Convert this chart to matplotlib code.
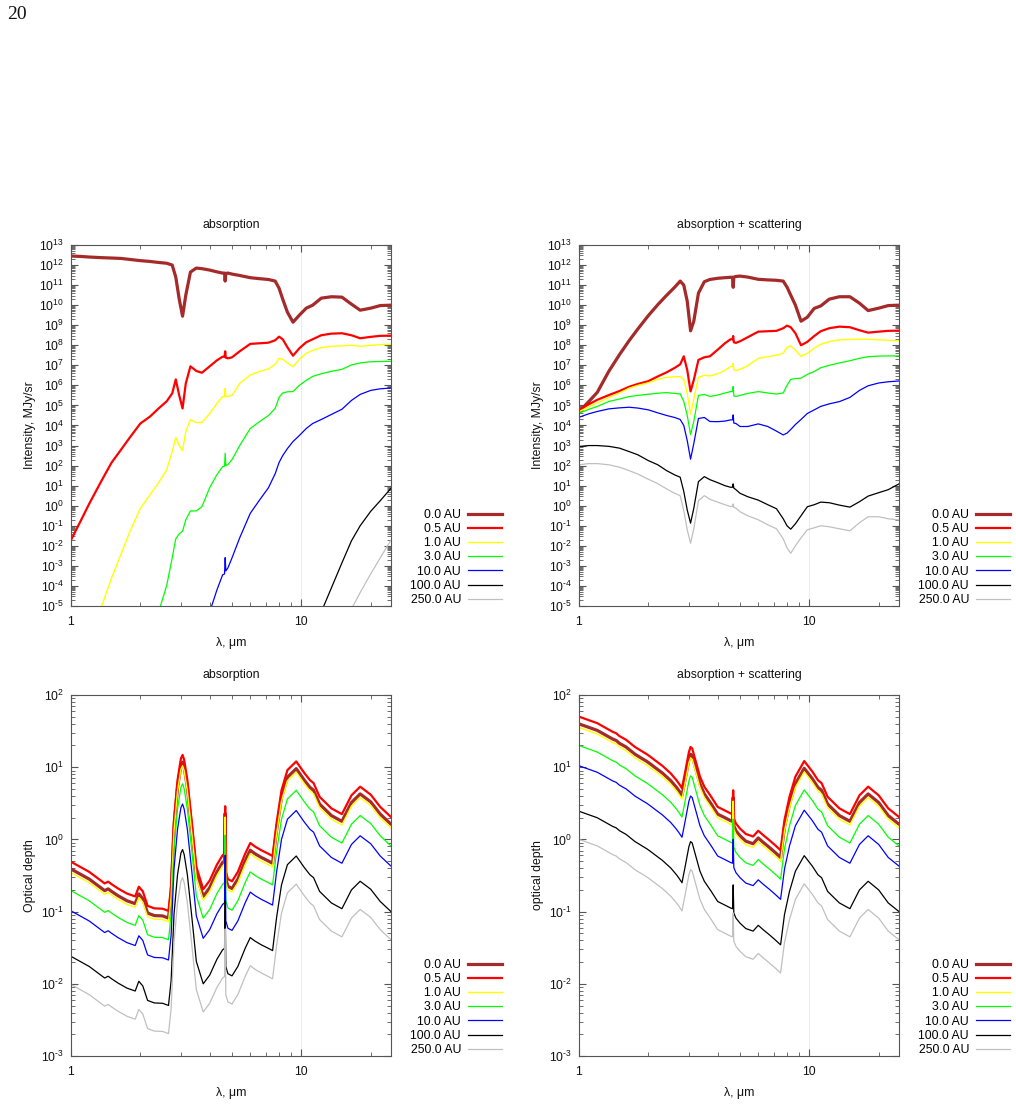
import numpy as np
import matplotlib
matplotlib.use("Agg")
import matplotlib.pyplot as plt
from matplotlib.ticker import LogLocator, FuncFormatter, NullFormatter
from matplotlib.lines import Line2D

nan = float("nan")

# ---------------- data (log10 values) ----------------
radii_labels = ["0.0 AU", "0.5 AU", "1.0 AU", "3.0 AU", "10.0 AU", "100.0 AU", "250.0 AU"]

# wavelength grid, micron (intensity panels)
wl_I = [1.0, 1.1, 1.2, 1.35, 1.5, 1.65, 1.8, 2.0, 2.2, 2.4,
        2.6, 2.75, 2.85, 2.95, 3.05, 3.15, 3.3, 3.5, 3.7, 4.0,
        4.3, 4.55, 4.64, 4.67, 4.70, 4.8, 5.0, 5.4, 6.0, 6.6,
        7.2, 7.7, 8.0, 8.3, 8.7, 9.2, 9.8, 10.5, 11.2, 12.2,
        13.5, 15.0, 16.5, 18.0, 20.0, 22.0, 24.5]

# log10 intensity, MJy/sr -- absorption only
abs_logI_00 = [12.45, 12.43, 12.40, 12.37, 12.35, 12.33, 12.28, 12.22, 12.18, 12.13,
               12.09, 12.00, 11.40, 10.30, 9.45, 10.50, 11.65, 11.85, 11.82, 11.75,
               11.66, 11.60, 11.60, 11.20, 11.58, 11.60, 11.55, 11.48, 11.37, 11.32,
               11.28, 11.20, 10.85, 10.30, 9.65, 9.15, 9.50, 9.85, 10.00, 10.35,
               10.42, 10.40, 10.05, 9.75, 9.85, 9.98, 10.00]
abs_logI_05 = [-1.71, -0.77, 0.10, 1.20, 2.15, 2.80, 3.40, 4.10, 4.44, 4.85,
               5.20, 5.60, 6.30, 5.50, 4.85, 6.10, 6.95, 6.72, 6.63, 6.95,
               7.25, 7.43, 7.43, 7.70, 7.38, 7.35, 7.40, 7.70, 8.07, 8.10,
               8.13, 8.25, 8.43, 8.30, 7.90, 7.48, 7.85, 8.15, 8.30, 8.50,
               8.58, 8.60, 8.50, 8.35, 8.42, 8.47, 8.48]
abs_logI_10 = [nan, nan, nan, -5.10, -3.60, -2.40, -1.30, -0.13, 0.54, 1.15,
               1.78, 2.70, 3.40, 3.00, 2.75, 3.70, 4.30, 4.15, 4.15, 4.60,
               5.10, 5.44, 5.44, 5.85, 5.45, 5.45, 5.50, 6.10, 6.52, 6.70,
               6.82, 7.05, 7.35, 7.30, 7.12, 6.93, 7.30, 7.60, 7.75, 7.88,
               7.95, 7.97, 8.00, 7.95, 8.00, 8.03, 8.05]
abs_logI_30 = [nan, nan, nan, nan, nan, nan, nan, nan, nan, -5.30,
               -4.00, -2.60, -1.65, -1.40, -1.27, -0.70, -0.26, -0.26, -0.05, 0.90,
               1.55, 1.95, 1.97, 2.62, 2.00, 2.05, 2.30, 3.00, 3.85, 4.20,
               4.50, 4.85, 5.40, 5.62, 5.68, 5.69, 6.00, 6.25, 6.45, 6.58,
               6.70, 6.80, 7.02, 7.12, 7.18, 7.19, 7.20]
abs_logI_100 = [nan, nan, nan, nan, nan, nan, nan, nan, nan, nan,
                nan, nan, nan, nan, nan, nan, nan, nan, nan, -5.30,
                -4.20, -3.45, -3.40, -2.59, -3.25, -3.10, -2.60, -1.60, -0.38, 0.30,
                0.90, 1.60, 2.15, 2.50, 2.85, 3.20, 3.50, 3.85, 4.10, 4.30,
                4.55, 4.81, 5.25, 5.55, 5.75, 5.83, 5.87]
abs_logI_1000 = [nan, nan, nan, nan, nan, nan, nan, nan, nan, nan,
                 nan, nan, nan, nan, nan, nan, nan, nan, nan, nan,
                 nan, nan, nan, nan, nan, nan, nan, nan, nan, nan,
                 nan, nan, nan, nan, nan, nan, nan, nan, nan, -5.30,
                 -4.10, -2.85, -1.75, -1.00, -0.28, 0.25, 0.87]
abs_logI_2500 = [nan, nan, nan, nan, nan, nan, nan, nan, nan, nan,
                 nan, nan, nan, nan, nan, nan, nan, nan, nan, nan,
                 nan, nan, nan, nan, nan, nan, nan, nan, nan, nan,
                 nan, nan, nan, nan, nan, nan, nan, nan, nan, nan,
                 nan, nan, -5.15, -4.33, -3.40, -2.60, -1.71]

# log10 intensity, MJy/sr -- absorption + scattering
sca_logI_00 = [4.69, 5.18, 5.65, 6.72, 7.54, 8.23, 8.81, 9.48, 10.03, 10.49,
               10.89, 11.20, 11.00, 10.20, 8.72, 9.20, 10.60, 11.17, 11.28, 11.34,
               11.37, 11.39, 11.39, 10.89, 11.40, 11.43, 11.45, 11.40, 11.29, 11.26,
               11.24, 11.20, 10.90, 10.50, 10.00, 9.20, 9.40, 9.84, 9.96, 10.30,
               10.42, 10.42, 10.10, 9.73, 9.85, 9.98, 10.00]
sca_logI_05 = [4.78, 5.05, 5.28, 5.52, 5.72, 5.93, 6.07, 6.21, 6.45, 6.65,
               6.87, 7.05, 7.45, 6.77, 5.70, 6.27, 7.27, 7.40, 7.45, 7.78,
               8.10, 8.30, 8.30, 8.46, 8.15, 8.12, 8.20, 8.40, 8.68, 8.70,
               8.72, 8.85, 8.98, 8.90, 8.60, 8.00, 8.17, 8.46, 8.70, 8.85,
               8.93, 8.90, 8.75, 8.63, 8.68, 8.72, 8.73]
sca_logI_10 = [4.69, 4.92, 5.12, 5.40, 5.62, 5.86, 6.00, 6.13, 6.30, 6.40,
               6.43, 6.44, 6.30, 5.60, 4.55, 5.30, 6.40, 6.50, 6.47, 6.58,
               6.75, 6.94, 6.94, 7.10, 6.78, 6.74, 6.80, 6.98, 7.35, 7.43,
               7.50, 7.60, 7.90, 7.97, 7.75, 7.45, 7.60, 7.85, 8.05, 8.18,
               8.27, 8.29, 8.30, 8.30, 8.27, 8.25, 8.23]
sca_logI_30 = [4.61, 4.80, 4.95, 5.20, 5.32, 5.44, 5.50, 5.56, 5.61, 5.64,
               5.60, 5.57, 5.20, 4.50, 3.55, 4.20, 5.50, 5.55, 5.45, 5.52,
               5.62, 5.69, 5.69, 5.94, 5.48, 5.45, 5.50, 5.60, 5.69, 5.62,
               5.57, 5.62, 6.00, 6.30, 6.34, 6.36, 6.55, 6.69, 6.88, 7.00,
               7.12, 7.23, 7.35, 7.43, 7.46, 7.47, 7.47]
sca_logI_100 = [4.41, 4.58, 4.70, 4.83, 4.88, 4.91, 4.87, 4.78, 4.63, 4.50,
                4.40, 4.30, 4.00, 3.25, 2.32, 3.10, 4.35, 4.40, 4.20, 4.19,
                4.22, 4.28, 4.28, 4.53, 4.12, 4.10, 3.95, 3.95, 4.08, 3.95,
                3.72, 3.53, 3.62, 3.80, 4.05, 4.30, 4.60, 4.78, 4.95, 5.08,
                5.19, 5.40, 5.75, 5.98, 6.12, 6.18, 6.22]
sca_logI_1000 = [2.95, 3.00, 3.00, 2.96, 2.87, 2.70, 2.54, 2.25, 2.04, 1.75,
                 1.54, 1.42, 0.71, -0.21, -0.87, -0.13, 1.20, 1.45, 1.30, 1.15,
                 1.00, 0.92, 0.92, 1.09, 0.88, 0.80, 0.62, 0.45, 0.28, 0.05,
                 -0.15, -0.65, -1.00, -1.17, -0.90, -0.50, -0.05, 0.05, 0.18, 0.15,
                 0.03, -0.07, 0.20, 0.48, 0.65, 0.80, 1.09]
sca_logI_2500 = [2.04, 2.10, 2.10, 2.04, 1.92, 1.75, 1.58, 1.32, 1.10, 0.84,
                 0.62, 0.50, -0.25, -1.20, -1.87, -1.15, 0.25, 0.50, 0.32, 0.18,
                 0.05, -0.04, -0.04, 0.09, -0.08, -0.12, -0.30, -0.50, -0.70, -0.95,
                 -1.15, -1.65, -2.10, -2.37, -2.00, -1.60, -1.20, -1.10, -1.00, -1.05,
                 -1.15, -1.25, -0.85, -0.55, -0.55, -0.65, -0.71]

# wavelength grid, micron (optical depth panels)
wl_tau = [1.0, 1.2, 1.4, 1.45, 1.5, 1.6, 1.75, 1.9, 1.97, 2.05,
          2.15, 2.3, 2.5, 2.65, 2.72, 2.8, 2.9, 3.0, 3.05, 3.1,
          3.2, 3.35, 3.5, 3.75, 4.0, 4.3, 4.55, 4.64, 4.67, 4.70,
          4.8, 5.0, 5.3, 5.7, 6.0, 6.3, 6.7, 7.1, 7.5, 7.8,
          8.2, 8.7, 9.5, 10.3, 10.9, 11.3, 12.0, 13.5, 15.0, 16.5,
          18.0, 20.0, 22.0, 24.5]

# log10 optical depth -- absorption
abs_logtau_00 = [-0.41, -0.55, -0.71, -0.685, -0.72, -0.78, -0.85, -0.89, -0.755, -0.82,
                 -1.02, -1.055, -1.06, -1.09, -0.75, 0.17, 0.72, 1.02, 1.07, 1.00,
                 0.72, 0.12, -0.48, -0.79, -0.67, -0.45, -0.32, -0.30, 0.36, -0.55,
                 -0.65, -0.68, -0.55, -0.30, -0.15, -0.20, -0.25, -0.29, -0.33, 0.12,
                 0.58, 0.86, 0.98, 0.82, 0.72, 0.68, 0.49, 0.33, 0.25, 0.51,
                 0.63, 0.52, 0.35, 0.21]
abs_logtau_05 = [-0.31, -0.45, -0.61, -0.585, -0.62, -0.68, -0.75, -0.79, -0.655, -0.72,
                 -0.92, -0.955, -0.96, -0.99, -0.65, 0.27, 0.82, 1.12, 1.17, 1.10,
                 0.82, 0.22, -0.38, -0.69, -0.57, -0.35, -0.22, -0.20, 0.46, -0.45,
                 -0.55, -0.58, -0.45, -0.20, -0.05, -0.10, -0.15, -0.19, -0.23, 0.22,
                 0.68, 0.96, 1.08, 0.92, 0.82, 0.78, 0.59, 0.43, 0.35, 0.61,
                 0.73, 0.62, 0.45, 0.31]
abs_logtau_10 = [-0.46, -0.60, -0.76, -0.735, -0.77, -0.83, -0.90, -0.94, -0.805, -0.87,
                 -1.07, -1.105, -1.11, -1.14, -0.80, 0.12, 0.67, 0.97, 1.02, 0.95,
                 0.67, 0.07, -0.53, -0.84, -0.72, -0.50, -0.37, -0.35, 0.31, -0.60,
                 -0.70, -0.73, -0.60, -0.35, -0.20, -0.25, -0.30, -0.34, -0.38, 0.07,
                 0.53, 0.81, 0.93, 0.77, 0.67, 0.63, 0.44, 0.28, 0.20, 0.46,
                 0.58, 0.47, 0.30, 0.16]
abs_logtau_30 = [-0.71, -0.85, -1.01, -0.985, -1.02, -1.08, -1.15, -1.19, -1.055, -1.12,
                 -1.32, -1.355, -1.36, -1.39, -1.05, -0.13, 0.42, 0.72, 0.77, 0.70,
                 0.42, -0.18, -0.78, -1.09, -0.97, -0.75, -0.62, -0.60, 0.06, -0.85,
                 -0.95, -0.98, -0.85, -0.60, -0.45, -0.50, -0.55, -0.59, -0.63, -0.18,
                 0.28, 0.56, 0.68, 0.52, 0.42, 0.38, 0.19, 0.03, -0.05, 0.21,
                 0.33, 0.22, 0.05, -0.09]
abs_logtau_100 = [-0.99, -1.13, -1.29, -1.265, -1.30, -1.36, -1.43, -1.47, -1.335, -1.40,
                  -1.60, -1.635, -1.64, -1.67, -1.33, -0.41, 0.14, 0.44, 0.49, 0.42,
                  0.14, -0.46, -1.06, -1.37, -1.25, -1.03, -0.90, -0.88, -0.22, -1.13,
                  -1.23, -1.26, -1.13, -0.88, -0.73, -0.78, -0.83, -0.87, -0.91, -0.46,
                  0.00, 0.28, 0.40, 0.24, 0.14, 0.10, -0.09, -0.25, -0.33, -0.07,
                  0.05, -0.06, -0.23, -0.37]
abs_logtau_1000 = [-1.62, -1.76, -1.92, -1.895, -1.93, -1.99, -2.06, -2.10, -1.965, -2.03,
                   -2.23, -2.265, -2.27, -2.30, -1.96, -1.04, -0.49, -0.19, -0.14, -0.21,
                   -0.49, -1.09, -1.69, -2.00, -1.88, -1.66, -1.53, -1.51, -0.85, -1.76,
                   -1.86, -1.89, -1.76, -1.51, -1.36, -1.41, -1.46, -1.50, -1.54, -1.09,
                   -0.63, -0.35, -0.23, -0.39, -0.49, -0.53, -0.72, -0.88, -0.96, -0.70,
                   -0.58, -0.69, -0.86, -1.00]
abs_logtau_2500 = [-2.01, -2.15, -2.31, -2.285, -2.32, -2.38, -2.45, -2.49, -2.355, -2.42,
                   -2.62, -2.655, -2.66, -2.69, -2.35, -1.43, -0.88, -0.58, -0.53, -0.60,
                   -0.88, -1.48, -2.08, -2.39, -2.27, -2.05, -1.92, -1.90, -1.24, -2.15,
                   -2.25, -2.28, -2.15, -1.90, -1.75, -1.80, -1.85, -1.89, -1.93, -1.48,
                   -1.02, -0.74, -0.62, -0.78, -0.88, -0.92, -1.11, -1.27, -1.35, -1.09,
                   -0.97, -1.08, -1.25, -1.39]

# log10 optical depth -- absorption + scattering
sca_logtau_00 = [1.60, 1.51, 1.39, 1.37, 1.33, 1.28, 1.18, 1.11, 1.08, 1.04,
                 0.99, 0.92, 0.815, 0.72, 0.67, 0.61, 0.86, 1.11, 1.18, 1.16,
                 1.00, 0.77, 0.63, 0.49, 0.35, 0.30, 0.26, 0.25, 0.58, 0.19,
                 0.12, 0.05, -0.025, -0.06, 0.02, -0.04, -0.11, -0.18, -0.25, 0.17,
                 0.49, 0.77, 0.985, 0.84, 0.72, 0.68, 0.49, 0.33, 0.25, 0.51,
                 0.63, 0.51, 0.33, 0.21]
sca_logtau_05 = [1.70, 1.61, 1.49, 1.47, 1.43, 1.38, 1.28, 1.21, 1.18, 1.14,
                 1.09, 1.02, 0.915, 0.82, 0.77, 0.71, 0.96, 1.21, 1.28, 1.26,
                 1.10, 0.87, 0.73, 0.59, 0.45, 0.40, 0.36, 0.35, 0.68, 0.29,
                 0.22, 0.15, 0.075, 0.04, 0.12, 0.06, -0.01, -0.08, -0.15, 0.27,
                 0.59, 0.87, 1.085, 0.94, 0.82, 0.78, 0.59, 0.43, 0.35, 0.61,
                 0.73, 0.61, 0.43, 0.31]
sca_logtau_10 = [1.55, 1.46, 1.34, 1.32, 1.28, 1.23, 1.13, 1.06, 1.03, 0.99,
                 0.94, 0.87, 0.765, 0.67, 0.62, 0.56, 0.81, 1.06, 1.13, 1.11,
                 0.95, 0.72, 0.58, 0.44, 0.30, 0.25, 0.21, 0.20, 0.53, 0.14,
                 0.07, 0.00, -0.075, -0.11, -0.03, -0.09, -0.16, -0.23, -0.30, 0.12,
                 0.44, 0.72, 0.935, 0.79, 0.67, 0.63, 0.44, 0.28, 0.20, 0.46,
                 0.58, 0.46, 0.28, 0.16]
sca_logtau_30 = [1.30, 1.21, 1.09, 1.07, 1.03, 0.98, 0.88, 0.81, 0.78, 0.74,
                 0.69, 0.62, 0.515, 0.42, 0.37, 0.31, 0.56, 0.81, 0.88, 0.86,
                 0.70, 0.47, 0.33, 0.19, 0.05, 0.00, -0.04, -0.05, 0.28, -0.11,
                 -0.18, -0.25, -0.325, -0.36, -0.28, -0.34, -0.41, -0.48, -0.55, -0.13,
                 0.19, 0.47, 0.685, 0.54, 0.42, 0.38, 0.19, 0.03, -0.05, 0.21,
                 0.33, 0.21, 0.03, -0.09]
sca_logtau_100 = [1.02, 0.93, 0.81, 0.79, 0.75, 0.70, 0.60, 0.53, 0.50, 0.46,
                  0.41, 0.34, 0.235, 0.14, 0.09, 0.03, 0.28, 0.53, 0.60, 0.58,
                  0.42, 0.19, 0.05, -0.09, -0.23, -0.28, -0.32, -0.33, 0.00, -0.39,
                  -0.46, -0.53, -0.605, -0.64, -0.56, -0.62, -0.69, -0.76, -0.83, -0.41,
                  -0.09, 0.19, 0.405, 0.26, 0.14, 0.10, -0.09, -0.25, -0.33, -0.07,
                  0.05, -0.07, -0.25, -0.37]
sca_logtau_1000 = [0.39, 0.30, 0.18, 0.16, 0.12, 0.07, -0.03, -0.10, -0.13, -0.17,
                   -0.22, -0.29, -0.395, -0.49, -0.54, -0.60, -0.35, -0.10, -0.03, -0.05,
                   -0.21, -0.44, -0.58, -0.72, -0.86, -0.91, -0.95, -0.96, -0.63, -1.02,
                   -1.09, -1.16, -1.235, -1.27, -1.19, -1.25, -1.32, -1.39, -1.46, -1.04,
                   -0.72, -0.44, -0.225, -0.37, -0.49, -0.53, -0.72, -0.88, -0.96, -0.70,
                   -0.58, -0.70, -0.88, -1.00]
sca_logtau_2500 = [0.00, -0.09, -0.21, -0.23, -0.27, -0.32, -0.42, -0.49, -0.52, -0.56,
                   -0.61, -0.68, -0.785, -0.88, -0.93, -0.99, -0.74, -0.49, -0.42, -0.44,
                   -0.60, -0.83, -0.97, -1.11, -1.25, -1.30, -1.34, -1.35, -1.02, -1.41,
                   -1.48, -1.55, -1.625, -1.66, -1.58, -1.64, -1.71, -1.78, -1.85, -1.43,
                   -1.11, -0.83, -0.615, -0.76, -0.88, -0.92, -1.11, -1.27, -1.35, -1.09,
                   -0.97, -1.09, -1.27, -1.39]

# ---------------- style ----------------
plt.rcParams["font.family"] = ["Liberation Sans", "DejaVu Sans"]
plt.rcParams["mathtext.fontset"] = "custom"
plt.rcParams["mathtext.rm"] = "Liberation Sans"
plt.rcParams["mathtext.it"] = "Liberation Sans:italic"
plt.rcParams["mathtext.bf"] = "Liberation Sans:bold"
plt.rcParams["mathtext.default"] = "regular"

FS = 8.8
line_colors = ["#a52a2a", "#ff0000", "#ffff00", "#00ff00", "#0000ff", "#000000", "#c0c0c0"]
line_widths = [2.3, 1.6, 1.0, 0.9, 0.9, 0.9, 0.9]
FRAME = "#555555"

W, H = 1016, 1106
fig = plt.figure(figsize=(W / 100, H / 100), dpi=100)


def rect(x0, y0, x1, y1):
    return [x0 / W, 1 - y1 / H, (x1 - x0) / W, (y1 - y0) / H]


def pow_label(v, pos):
    e = int(round(np.log10(v)))
    es = str(e).replace("-", "\u2010")
    return r"$\mathdefault{10^{%s}}$" % es


panels = [
    dict(r=rect(71, 245, 391, 606), wl=wl_I,
         data=[abs_logI_00, abs_logI_05, abs_logI_10, abs_logI_30, abs_logI_100, abs_logI_1000, abs_logI_2500],
         ylim=(1e-5, 1e13), ylabel="Intensity, MJy/sr", title="absorption", leg=(502, 606)),
    dict(r=rect(579, 245, 899, 606), wl=wl_I,
         data=[sca_logI_00, sca_logI_05, sca_logI_10, sca_logI_30, sca_logI_100, sca_logI_1000, sca_logI_2500],
         ylim=(1e-5, 1e13), ylabel="Intensity, MJy/sr", title="absorption + scattering", leg=(1010, 606)),
    dict(r=rect(71, 695, 391, 1056), wl=wl_tau,
         data=[abs_logtau_00, abs_logtau_05, abs_logtau_10, abs_logtau_30, abs_logtau_100, abs_logtau_1000, abs_logtau_2500],
         ylim=(1e-3, 1e2), ylabel="Optical depth", title="absorption", leg=(502, 1056)),
    dict(r=rect(579, 695, 899, 1056), wl=wl_tau,
         data=[sca_logtau_00, sca_logtau_05, sca_logtau_10, sca_logtau_30, sca_logtau_100, sca_logtau_1000, sca_logtau_2500],
         ylim=(1e-3, 1e2), ylabel="optical depth", title="absorption + scattering", leg=(1010, 1056)),
]

for p in panels:
    ax = fig.add_axes(p["r"])
    ax.set_xscale("log")
    ax.set_yscale("log")
    ax.axvline(10, color="#ececec", lw=0.7, zorder=0)
    wl = np.array(p["wl"])
    for vals, c, lw in zip(p["data"], line_colors, line_widths):
        ax.plot(wl, 10.0 ** np.array(vals), color=c, lw=lw,
                solid_joinstyle="round", solid_capstyle="round")
    ax.set_xlim(1, 24.5)
    ax.set_ylim(*p["ylim"])

    ax.set_xticks([1, 10])
    ax.set_xticklabels(["1", "10"])
    ax.set_xticks([2, 3, 4, 5, 6, 7, 8, 9, 20], minor=True)
    ax.xaxis.set_minor_formatter(NullFormatter())
    ax.yaxis.set_major_locator(LogLocator(base=10, numticks=40))
    ax.yaxis.set_major_formatter(FuncFormatter(pow_label))
    ax.yaxis.set_minor_locator(LogLocator(base=10, subs=np.arange(2, 10), numticks=200))
    ax.yaxis.set_minor_formatter(NullFormatter())

    ax.tick_params(which="both", direction="in", top=True, right=True,
                   colors=FRAME, labelcolor="#111111", labelsize=FS)
    ax.tick_params(which="major", length=5, width=0.8)
    ax.tick_params(which="minor", length=2.6, width=0.6)
    ax.tick_params(axis="x", which="major", pad=7)
    ax.tick_params(axis="y", which="major", pad=5)
    for s in ax.spines.values():
        s.set_color(FRAME)
        s.set_linewidth(0.8)

    ax.set_title(p["title"], fontsize=FS, pad=12, color="#111111")
    ax.set_xlabel("λ, μm", fontsize=FS, color="#111111")
    ax.xaxis.set_label_coords(0.5, -0.086)
    ax.set_ylabel(p["ylabel"], fontsize=FS, color="#111111")
    ax.yaxis.set_label_coords(-0.11, 0.5)

    handles = [Line2D([], [], color=c, lw=lw) for c, lw in zip(line_colors, line_widths)]
    lx, ly = p["leg"]
    ax.legend(handles, radii_labels, loc="lower right",
              bbox_to_anchor=(lx / W, 1 - ly / H), bbox_transform=fig.transFigure,
              frameon=False, markerfirst=False, handlelength=2.8, handletextpad=0.55,
              labelspacing=0.18, borderpad=0, borderaxespad=0, fontsize=FS)

fig.text(7 / W, 1 - 19 / H, "20", family="Liberation Serif", fontsize=14,
         va="baseline", ha="left", color="#111111")

fig.savefig("out.png", dpi=100)
